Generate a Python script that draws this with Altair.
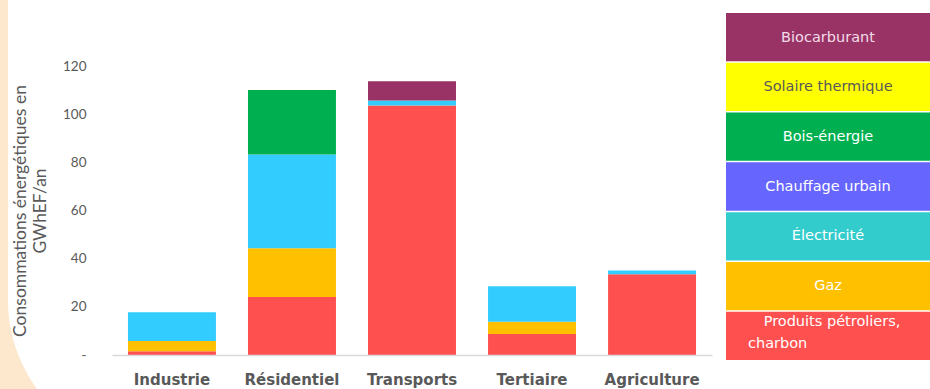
import altair as alt
import pandas as pd

# ---- data -------------------------------------------------------------
secteurs = ["Industrie", "Résidentiel", "Transports", "Tertiaire", "Agriculture"]
energies = ["Produits pétroliers, charbon", "Gaz", "Électricité", "Chauffage urbain",
            "Bois-énergie", "Solaire thermique", "Biocarburant"]

produits_petroliers = [1.6, 24.1, 103.6, 8.7, 33.5]
gaz = [4.2, 20.2, 0.0, 5.1, 0.0]
electricite = [11.9, 39.0, 2.1, 14.7, 1.6]
chauffage_urbain = [0.0, 0.0, 0.0, 0.0, 0.0]
bois_energie = [0.0, 26.7, 0.0, 0.0, 0.0]
solaire_thermique = [0.0, 0.0, 0.0, 0.0, 0.0]
biocarburant = [0.0, 0.0, 8.0, 0.0, 0.0]

bar_colors = ["#FF5050", "#FFC000", "#33CCFF", "#6666FF", "#00B050", "#FFFF00", "#993366"]

legend_labels = ["Biocarburant", "Solaire thermique", "Bois-énergie", "Chauffage urbain",
                 "Électricité", "Gaz", "Produits pétroliers, charbon"]
legend_colors = ["#993366", "#FFFF00", "#00B050", "#6666FF", "#33CCCC", "#FFC000", "#FF5050"]
legend_text_colors = ["#F3DDE8", "#595959", "#FFFFFF", "#FFFFFF", "#FFFFFF", "#FFFFFF", "#FFFFFF"]

y_ticks = [0, 20, 40, 60, 80, 100, 120]
y_title = ["Consommations énergétiques en", "GWhEF/an"]

# ---- tables -------------------------------------------------------------
series = [produits_petroliers, gaz, electricite, chauffage_urbain,
          bois_energie, solaire_thermique, biocarburant]
rows = []
for rang, (energie, vals) in enumerate(zip(energies, series)):
    for secteur, v in zip(secteurs, vals):
        rows.append({"secteur": secteur, "energie": energie, "valeur": v, "rang": rang})
df = pd.DataFrame(rows)

leg_df = pd.DataFrame({"label": legend_labels, "couleur": legend_colors,
                       "textcol": legend_text_colors})
last_label = legend_labels[-1]

# ---- layers ---------------------------------------------------------------
background = alt.Chart(pd.DataFrame({"k": [0]})).mark_rect(
    color="white", cornerRadius=151
).encode(x=alt.value(-104), x2=alt.value(1300), y=alt.value(-500), y2=alt.value(385))

bars = alt.Chart(df).mark_bar().encode(
    x=alt.X("secteur:N", sort=secteurs,
            scale=alt.Scale(paddingInner=0.267, paddingOuter=0.133),
            axis=alt.Axis(title=None, labelAngle=0, ticks=False, tickSize=0, zindex=1,
                          domainColor="#D9D9D9", domainWidth=1.5,
                          labelFont="DejaVu Sans", labelFontWeight="bold",
                          labelFontSize=15, labelColor="#595959", labelPadding=17)),
    y=alt.Y("valeur:Q", stack="zero",
            scale=alt.Scale(domain=[0, 120], nice=False),
            axis=alt.Axis(values=y_ticks, title=y_title, domain=False, grid=False,
                          ticks=False, tickSize=0, labelPadding=26, zindex=1,
                          labelFont="Lato", labelFontSize=13.5, labelColor="#595959",
                          labelExpr="datum.value == 0 ? '-' : datum.label",
                          titleFont="Lato", titleFontSize=17.5, titleFontWeight="normal",
                          titleColor="#595959", titleLineHeight=20,
                          titleX=-92, titleY=144.5, titleBaseline="middle",
                          titleAngle=270)),
    color=alt.Color("energie:N", scale=alt.Scale(domain=energies, range=bar_colors),
                    legend=None),
    order=alt.Order("rang:Q", sort="ascending"),
)

leg_y = alt.Y("label:N",
              scale=alt.Scale(domain=legend_labels, range=[-53, 294],
                              paddingInner=0.03, paddingOuter=0),
              axis=None)

leg_rects = alt.Chart(leg_df).mark_rect().encode(
    y=leg_y, x=alt.value(614), x2=alt.value(818),
    color=alt.Color("couleur:N", scale=None),
)

leg_text = alt.Chart(leg_df).mark_text(
    font="DejaVu Sans", fontSize=14.5, align="center", baseline="middle"
).encode(
    y=leg_y, x=alt.value(716), text="label:N",
    color=alt.Color("textcol:N", scale=None),
).transform_filter(alt.datum.label != last_label)

leg_last1 = alt.Chart(leg_df).mark_text(
    font="DejaVu Sans", fontSize=14.5, align="center", baseline="middle", dy=-13
).encode(
    y=leg_y, x=alt.value(720), text="l1:N",
    color=alt.Color("textcol:N", scale=None),
).transform_filter(alt.datum.label == last_label).transform_calculate(
    l1="split(datum.label, ', ')[0] + ','"
)

leg_last2 = alt.Chart(leg_df).mark_text(
    font="DejaVu Sans", fontSize=14.5, align="left", baseline="middle", dy=9
).encode(
    y=leg_y, x=alt.value(636), text="l2:N",
    color=alt.Color("textcol:N", scale=None),
).transform_filter(alt.datum.label == last_label).transform_calculate(
    l2="split(datum.label, ', ')[1]"
)

chart = alt.layer(
    background, bars, leg_rects, leg_text, leg_last1, leg_last2
).resolve_scale(
    x="independent", y="independent", color="independent"
).properties(
    width=600, height=289,
    autosize=alt.AutoSizeParams(type="none"),
    padding={"left": 112, "top": 66, "right": 218, "bottom": 34},
    background="#FDE8CE",
).configure_view(stroke=None)

chart.save("out.html", embed_options={"renderer": "svg", "actions": False})
